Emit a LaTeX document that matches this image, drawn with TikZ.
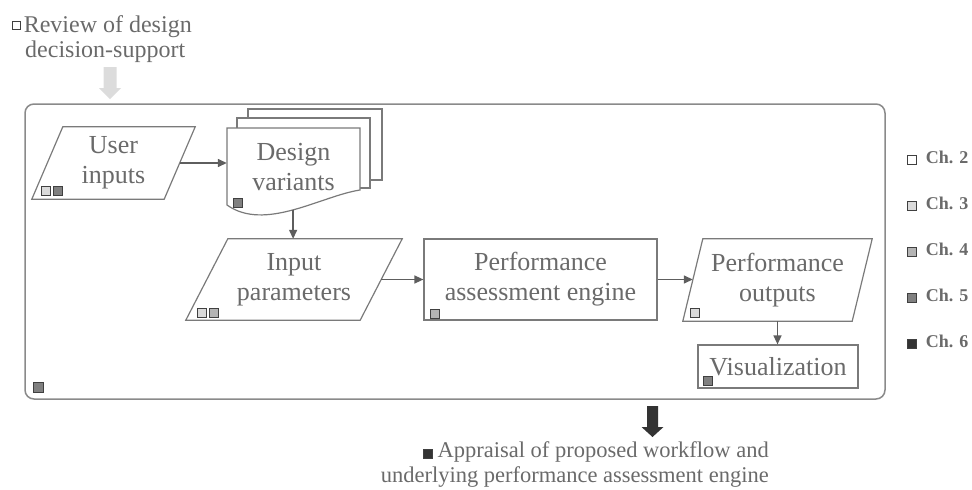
\documentclass[tikz,border=0pt]{standalone}
\usepackage{fontspec}
\setmainfont{Liberation Serif}
\usetikzlibrary{arrows.meta,calc}

\definecolor{txt}{HTML}{6A6A6A}
\definecolor{edge}{HTML}{7A7A7A}
\definecolor{conn}{HTML}{5E5E5E}
\definecolor{framegray}{HTML}{8A8A8A}
\definecolor{arrowlight}{HTML}{DCDCDC}
\definecolor{chtwo}{HTML}{FFFFFF}
\definecolor{chthree}{HTML}{DADADA}
\definecolor{chfour}{HTML}{B4B4B4}
\definecolor{chfive}{HTML}{808080}
\definecolor{chsix}{HTML}{333333}

% small bordered square used as a chapter marker inside text
\newcommand\chipmark[2]{{\fboxsep=0pt\fboxrule=0.8pt\fcolorbox{black!75}{#1}{\rule{0pt}{#2}\rule{#2}{0pt}}}}

\begin{document}
\begin{tikzpicture}[x=1pt,y=-1pt,
  nodetext/.style={text=txt, font=\fontsize{26}{30}\selectfont, align=center, inner sep=0pt},
  outline/.style={draw=edge, line width=1.2pt},
  flow/.style={draw=conn, line width=1.4pt, -{Triangle[length=9pt,width=8pt]}},
  chip/.style={draw=black!75, line width=0.8pt, minimum size=9pt, inner sep=0pt, anchor=north west},
  legendtext/.style={text=txt, font=\fontsize{18}{20}\selectfont\bfseries, anchor=west, inner sep=0pt},
  outertext/.style={text=txt, inner sep=0pt}
]
\useasboundingbox (0,0) rectangle (972,490);

% outer frame of the workflow
\node[draw=framegray, line width=1.5pt, rounded corners=9pt,
      minimum width=860pt, minimum height=295pt, inner sep=0pt] (frame) at (455,251.5) {};

% heading above and the arrow into the frame
\node[outertext, font=\fontsize{24}{25}\selectfont, align=left, anchor=north west] (review) at (12,15.8)
  {\raisebox{4pt}{\chipmark{chtwo}{7pt}}\hspace{3pt}Review of design\\\hspace*{13pt}decision-support};
\fill[arrowlight] (103.5,67) -- (116.5,67) -- (116.5,88) -- (121,88) -- (110,99)
  -- (99,88) -- (103.5,88) -- cycle;

% user inputs (parallelogram)
\node[nodetext, minimum width=163pt, minimum height=72pt] (ui) at (113.5,163) {User\\inputs};
\draw[outline] ($(ui.north west)+(31,0)$) -- (ui.north east) -- ($(ui.south east)+(-31,0)$)
  -- (ui.south west) -- cycle;

% design variants (stacked documents)
\draw[outline, fill=white] (248,109) rectangle (382,180);
\draw[outline, fill=white] (237,118) rectangle (370,188);
\draw[outline, fill=white] (227,128) -- (360,128) -- (360,190)
  .. controls (321,196) and (265,232) .. (227,205) coordinate[pos=0.5] (dvb) -- cycle;
\node[nodetext, minimum width=133pt, minimum height=79pt] (dv) at (293.5,167.5) {Design\\variants};

% input parameters (parallelogram)
\node[nodetext, minimum width=216pt, minimum height=81pt] (ip) at (294,279.5) {Input\\parameters};
\draw[outline] ($(ip.north west)+(42,0)$) -- (ip.north east) -- ($(ip.south east)+(-42,0)$)
  -- (ip.south west) -- cycle;

% performance assessment engine
\node[nodetext, draw=edge, line width=1.2pt, minimum width=233pt, minimum height=81pt]
  (en) at (540.5,279.5) {Performance\\assessment engine};

% performance outputs (parallelogram)
\node[nodetext, minimum width=189pt, minimum height=82pt] (po) at (777.5,280) {Performance\\outputs};
\draw[outline] ($(po.north west)+(20,0)$) -- (po.north east) -- ($(po.south east)+(-20,0)$)
  -- (po.south west) -- cycle;

% visualization
\node[nodetext, draw=edge, line width=1.2pt, minimum width=160pt, minimum height=43pt]
  (vis) at (778,366.5) {Visualization};

% connectors
\coordinate (ui-out) at ($(ui.east)+(-15.5,0)$);
\coordinate (ip-out) at ($(ip.east)+(-21,0)$);
\coordinate (po-in) at ($(po.west)+(10,0)$);
\draw[flow] (ui-out) -- (ui-out -| dv.west);
\draw[flow] (dvb) -- (dvb |- ip.north);
\draw[flow] (ip-out) -- (en.west);
\draw[flow] (en.east) -- (en.east -| po-in);
\draw[flow] (po.south) -- (po.south |- vis.north);

% chapter markers
\node[chip, fill=chthree] (m-ui-a) at (41,186) {};
\node[chip, fill=chfive]  (m-ui-b) at (53,186) {};
\node[chip, fill=chfive]  (m-dv)   at (233,198) {};
\node[chip, fill=chthree] (m-ip-a) at (197,308) {};
\node[chip, fill=chfour]  (m-ip-b) at (209,308) {};
\node[chip, fill=chfour]  (m-en)   at (430,309) {};
\node[chip, fill=chthree] (m-po)   at (690,308) {};
\node[chip, fill=chfive]  (m-vis)  at (703,376) {};
\node[chip, fill=chfive, minimum size=10pt] (m-frame) at (33,382) {};

% legend
\node[legendtext] (ch2) at (907,158) {\chipmark{chtwo}{8pt}\hspace{9pt}Ch. 2};
\node[legendtext] (ch3) at (907,204) {\chipmark{chthree}{8pt}\hspace{9pt}Ch. 3};
\node[legendtext] (ch4) at (907,250) {\chipmark{chfour}{8pt}\hspace{9pt}Ch. 4};
\node[legendtext] (ch5) at (907,296) {\chipmark{chfive}{8pt}\hspace{9pt}Ch. 5};
\node[legendtext] (ch6) at (907,342) {\chipmark{chsix}{8pt}\hspace{9pt}Ch. 6};

% outcome arrow and caption below the frame
\fill[chsix] (647,406) -- (658,406) -- (658,427) -- (663.5,427) -- (652.5,437)
  -- (641.5,427) -- (647,427) -- cycle;
\node[outertext, font=\fontsize{22.5}{25}\selectfont, align=right, anchor=north east] (appraisal) at (769,441.5)
  {\chipmark{chsix}{8pt}\hspace{5pt}Appraisal of proposed workflow and\\underlying performance assessment engine};
\end{tikzpicture}
\end{document}
